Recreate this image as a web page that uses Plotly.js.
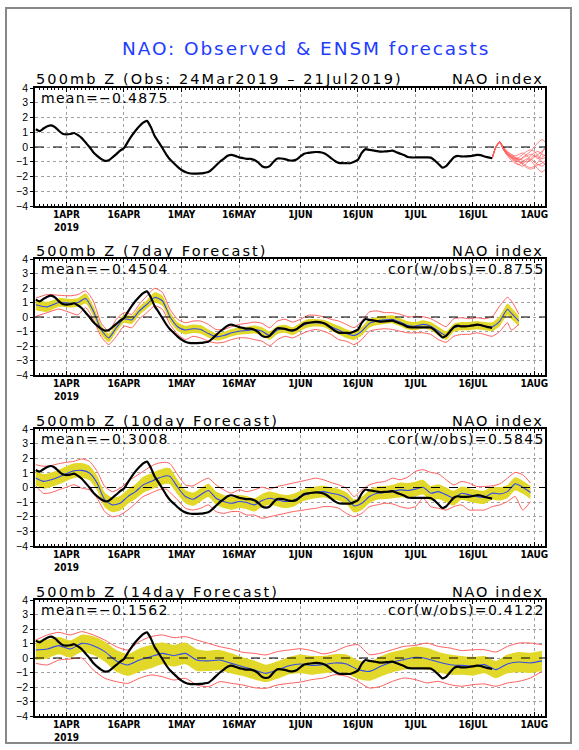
<!DOCTYPE html>
<html>
<head>
<meta charset="utf-8">
<script src="https://cdn.plot.ly/plotly-3.0.1.min.js"></script>
<style>html,body{margin:0;padding:0;background:#fff;}#chart{width:579px;height:750px;}</style>
</head>
<body>
<div id="chart"></div>
<script>
// ---------------- DATA ----------------
const obsStart = '2019-03-24';
const obsValues = [
  1.2, 1.08, 1.25, 1.4, 1.47, 1.35, 1.1, 0.9,
  0.85, 0.88, 0.95, 0.8, 0.6, 0.3, 0.0, -0.35, -0.6, -0.8, -0.94, -0.9, -0.7, -0.48, -0.25, -0.07, 0.35, 0.75, 1.1, 1.4, 1.65, 1.77, 1.35, 0.75, 0.35, -0.07, -0.5, -0.85, -1.1, -1.35,
  -1.56, -1.7, -1.78, -1.8, -1.8, -1.79, -1.75, -1.7, -1.5, -1.25, -1.0, -0.8, -0.6, -0.53, -0.6, -0.7, -0.75, -0.8, -0.8, -0.88, -1.05, -1.3, -1.38, -1.3, -1.0, -0.78, -0.78, -0.82, -0.9, -0.92, -0.85,
  -0.64, -0.45, -0.4, -0.36, -0.34, -0.35, -0.41, -0.55, -0.75, -0.95, -1.08, -1.1, -1.1, -1.1, -1.0, -0.87, -0.4, -0.14, -0.2, -0.23, -0.28, -0.32, -0.3, -0.28, -0.25, -0.35, -0.45, -0.55, -0.68, -0.71,
  -0.71, -0.71, -0.71, -0.71, -0.72, -0.9, -1.15, -1.4, -1.3, -1.0, -0.7, -0.6, -0.64, -0.64, -0.62, -0.58, -0.53, -0.55, -0.64, -0.7, -0.76
];

// Panel 1: ensemble member forecasts from 21Jul
const ensDates = ['07-21','07-22','07-23','07-24','07-25','07-26','07-27','07-28','07-29','07-30','07-31','08-01','08-02','08-03','08-04'];
const ensMembers = [
  [-0.76, 0.0, 0.35, -0.1, -0.4, -0.6, -0.8, -0.9, -0.7, -0.5, -0.3, 0.0, 0.3, 0.5, 0.3],
  [-0.76, 0.0, 0.3, -0.2, -0.5, -0.7, -0.9, -1.0, -1.1, -0.9, -0.6, -0.4, -0.3, -0.5, -0.6],
  [-0.76, 0.0, 0.35, 0.0, -0.3, -0.5, -0.6, -0.5, -0.4, -0.6, -0.8, -1.0, -1.2, -1.1, -0.9],
  [-0.76, 0.05, 0.38, -0.15, -0.5, -0.8, -1.0, -1.2, -1.3, -1.1, -0.8, -0.6, -0.7, -1.0, -1.2],
  [-0.76, 0.0, 0.3, -0.2, -0.6, -0.9, -1.1, -1.2, -1.0, -0.8, -0.9, -1.2, -1.5, -1.7, -1.5],
  [-0.76, 0.0, 0.32, -0.1, -0.35, -0.5, -0.7, -0.8, -0.9, -1.0, -0.9, -0.7, -0.5, -0.3, -0.1],
  [-0.76, 0.0, 0.35, -0.05, -0.45, -0.7, -0.8, -0.7, -0.5, -0.3, -0.2, -0.3, -0.6, -0.8, -0.7],
  [-0.76, 0.0, 0.3, -0.2, -0.55, -0.75, -0.9, -1.0, -1.1, -1.3, -1.4, -1.3, -1.0, -0.7, -0.5],
  [-0.76, 0.0, 0.33, -0.1, -0.4, -0.65, -0.8, -0.85, -0.75, -0.6, -0.5, -0.6, -0.8, -0.4, 0.1],
  [-0.76, 0.0, 0.36, -0.15, -0.5, -0.6, -0.7, -0.9, -1.2, -1.4, -1.5, -1.4, -1.2, -1.3, -1.1]
];

// Panel 2: 7-day forecast
const d7 = ['03-24','03-27','03-30','04-02','04-04','04-06','04-08','04-10','04-12','04-14','04-16','04-18','04-20','04-22','04-24','04-26','04-28','04-30',
  '05-02','05-04','05-06','05-08','05-10','05-12','05-14','05-16','05-18','05-20','05-22','05-24','05-26','05-28','05-30',
  '06-01','06-03','06-05','06-07','06-09','06-11','06-13','06-15','06-17','06-19','06-21','06-23','06-25','06-27','06-29',
  '07-01','07-03','07-05','07-07','07-09','07-11','07-13','07-15','07-17','07-19','07-21','07-23','07-25','07-26','07-28'];
const mean7 = [0.85, 0.7, 1.0, 0.95, 1.0, 1.28, 0.42, -0.86, -1.44, -0.74, -0.12, -0.2, 0.42, 0.88, 1.35, 1.12, 0.02, -0.67,
  -0.9, -0.81, -0.86, -1.14, -1.37, -1.28, -1.09, -0.98, -0.93, -0.86, -0.98, -1.28, -0.9, -0.81, -0.98,
  -0.67, -0.44, -0.4, -0.44, -0.67, -0.9, -1.14, -1.28, -0.98, -0.44, -0.28, -0.2, -0.16, -0.35, -0.58,
  -0.63, -0.51, -0.63, -0.98, -1.28, -0.74, -0.63, -0.63, -0.56, -0.63, -0.67, -0.28, 0.53, 0.26, -0.28];
const spread7 = [0.38, 0.35, 0.3, 0.3, 0.3, 0.35, 0.35, 0.35, 0.3, 0.3, 0.28, 0.28, 0.3, 0.3, 0.35, 0.35, 0.35, 0.3,
  0.3, 0.3, 0.3, 0.28, 0.25, 0.25, 0.25, 0.25, 0.25, 0.28, 0.28, 0.3, 0.28, 0.28, 0.28,
  0.28, 0.28, 0.25, 0.25, 0.28, 0.3, 0.3, 0.3, 0.3, 0.3, 0.28, 0.28, 0.28, 0.28, 0.28,
  0.28, 0.28, 0.28, 0.3, 0.3, 0.28, 0.28, 0.28, 0.28, 0.28, 0.3, 0.35, 0.4, 0.4, 0.35];
const hi7 = [1.3, 1.55, 1.5, 1.46, 1.55, 1.8, 1.1, -0.4, -0.98, -0.16, 0.3, 0.19, 0.88, 1.46, 1.98, 1.7, 0.53, -0.16,
  -0.4, -0.28, -0.28, -0.51, -0.86, -0.86, -0.67, -0.51, -0.44, -0.35, -0.44, -0.74, -0.28, -0.16, -0.35,
  -0.16, 0.12, 0.12, 0.02, -0.16, -0.28, -0.51, -0.74, -0.28, 0.35, 0.42, 0.3, 0.3, 0.19, 0.02,
  0.02, 0.02, -0.12, -0.4, -0.67, -0.12, -0.05, -0.12, -0.05, -0.12, 0.02, 0.77, 1.35, 1.12, 0.19];
const lo7 = [0.05, 0.3, 0.55, 0.3, 0.15, 0.65, -0.16, -1.33, -1.9, -1.33, -0.63, -0.74, -0.12, 0.3, 0.77, 0.53, -0.51, -1.2,
  -1.56, -1.33, -1.44, -1.67, -1.79, -1.74, -1.56, -1.44, -1.44, -1.56, -1.67, -1.98, -1.56, -1.33, -1.44,
  -1.2, -0.98, -0.86, -0.98, -1.2, -1.56, -1.67, -1.9, -1.56, -0.98, -0.86, -0.81, -0.86, -0.98, -1.09,
  -1.09, -1.09, -1.2, -1.56, -1.74, -1.33, -1.2, -1.2, -1.09, -1.2, -1.33, -1.0, -0.4, -0.9, -0.5];

// Panel 3: 10-day forecast
const d10 = ['03-24','03-26','03-28','03-30','04-01','04-03','04-05','04-07','04-09','04-11','04-13','04-15','04-17','04-19','04-21','04-23','04-25','04-27','04-28','04-30',
  '05-02','05-04','05-06','05-08','05-10','05-12','05-14','05-16','05-18','05-20','05-22','05-24','05-26','05-28','05-30',
  '06-01','06-03','06-05','06-07','06-09','06-11','06-13','06-15','06-17','06-19','06-21','06-23','06-25','06-27','06-29',
  '07-01','07-03','07-05','07-07','07-09','07-11','07-13','07-15','07-17','07-19','07-21','07-23','07-25','07-27','07-29','07-31'];
const mean10 = [0.65, 0.42, 0.53, 0.72, 0.95, 1.15, 1.17, 0.99, 0.3, -0.85, -1.19, -1.08, -0.62, -0.28, 0.18, 0.41, 0.64, 0.8, 0.76, 0.02,
  -0.62, -0.8, -0.5, -0.2, -0.73, -0.96, -1.08, -0.96, -1.03, -1.19, -0.89, -0.73, -0.85, -0.96, -0.89,
  -0.62, -0.44, -0.34, -0.28, -0.39, -0.5, -0.73, -1.26, -1.08, -0.62, -0.39, -0.34, -0.28, -0.16, -0.2,
  -0.11, 0.02, -0.39, -0.28, -0.5, -0.73, -0.39, -0.5, -0.62, -0.67, -0.39, -0.44, -0.28, 0.25, 0.02, -0.34];
const spread10 = [0.5, 0.5, 0.5, 0.5, 0.5, 0.5, 0.5, 0.5, 0.5, 0.5, 0.5, 0.5, 0.5, 0.5, 0.55, 0.55, 0.55, 0.55, 0.55, 0.5,
  0.45, 0.45, 0.45, 0.45, 0.45, 0.45, 0.45, 0.45, 0.45, 0.45, 0.45, 0.45, 0.45, 0.45, 0.45,
  0.4, 0.4, 0.4, 0.4, 0.4, 0.4, 0.4, 0.45, 0.45, 0.45, 0.45, 0.45, 0.45, 0.5, 0.5,
  0.5, 0.5, 0.5, 0.5, 0.5, 0.5, 0.45, 0.45, 0.45, 0.45, 0.45, 0.45, 0.45, 0.45, 0.45, 0.45];
const hi10 = [1.56, 1.45, 1.5, 1.63, 1.72, 1.79, 1.95, 1.79, 1.1, 0.07, -0.28, -0.05, 0.41, 0.76, 1.1, 1.45, 1.67, 1.72, 1.63, 0.87,
  0.18, 0.11, 0.41, 0.64, 0.18, -0.16, -0.39, -0.16, -0.28, -0.16, 0.02, -0.11, 0.07, 0.18, 0.3,
  0.41, 0.53, 0.64, 0.53, 0.34, 0.18, -0.05, -0.62, -0.16, 0.18, 0.34, 0.41, 0.64, 0.53, 0.71,
  1.1, 1.22, 1.03, 0.94, 0.53, 0.18, 0.41, 0.3, 0.07, 0.07, 0.11, 0.25, 0.64, 1.03, 0.87, 0.3];
const lo10 = [0.12, -0.4, -0.35, -0.16, 0.02, 0.19, -0.05, -0.16, -0.74, -1.65, -2.0, -1.88, -1.54, -1.08, -0.62, -0.39, -0.16, -0.11, -0.34, -0.85,
  -1.42, -1.54, -1.42, -1.19, -1.65, -1.77, -1.65, -1.65, -1.88, -1.88, -2.1, -2.0, -1.88, -1.77, -1.65,
  -1.58, -1.49, -1.42, -1.31, -1.31, -1.42, -1.77, -2.0, -1.77, -1.31, -1.19, -1.08, -1.12, -1.31, -1.42,
  -1.31, -0.73, -1.31, -1.42, -1.54, -1.31, -1.19, -1.54, -1.54, -1.54, -1.31, -1.19, -0.96, -0.62, -1.54, -0.96];

// Panel 4: 14-day forecast
const d14 = ['03-24','03-27','03-30','04-02','04-05','04-08','04-11','04-14','04-17','04-20','04-23','04-26','04-29',
  '05-02','05-05','05-08','05-11','05-14','05-17','05-20','05-23','05-26','05-29',
  '06-01','06-04','06-07','06-10','06-13','06-16','06-19','06-22','06-25','06-28',
  '07-01','07-04','07-07','07-10','07-13','07-16','07-19','07-22','07-25','07-28','07-31','08-03'];
const mean14 = [0.55, 0.62, 0.85, 0.62, 1.01, 0.85, 0.44, -0.2, -0.48, -0.14, 0.09, 0.32, 0.16,
  0.32, -0.14, -0.2, -0.14, -0.37, -0.6, -0.83, -1.06, -0.83, -0.53,
  -0.41, -0.51, -0.46, -0.34, -0.41, -0.8, -0.92, -0.57, -0.28, -0.11,
  0.05, -0.05, -0.28, -0.46, -0.51, -0.57, -0.46, -0.8, -0.41, -0.28, -0.34, -0.2];
const spread14 = [0.68, 0.65, 0.6, 0.6, 0.6, 0.65, 0.7, 0.75, 0.75, 0.8, 0.8, 0.75, 0.75,
  0.75, 0.75, 0.7, 0.7, 0.7, 0.65, 0.65, 0.6, 0.6, 0.6,
  0.65, 0.65, 0.6, 0.6, 0.65, 0.65, 0.65, 0.7, 0.7, 0.7,
  0.75, 0.75, 0.7, 0.7, 0.65, 0.65, 0.6, 0.6, 0.65, 0.7, 0.7, 0.7];
const hi14 = [1.24, 1.59, 1.77, 1.59, 1.82, 1.59, 1.24, 0.78, 0.55, 1.13, 1.47, 1.59, 1.4,
  1.47, 1.24, 1.01, 0.78, 0.62, 0.39, 0.32, 0.21, 0.44, 0.55,
  0.64, 0.51, 0.28, 0.46, 0.8, 0.92, 0.23, 0.34, 0.57, 0.8,
  0.87, 1.03, 0.8, 0.69, 0.51, 0.57, 0.57, 0.41, 0.8, 1.03, 1.03, 0.92];
const lo14 = [-0.37, -0.48, -0.14, -0.07, 0.0, -0.83, -1.4, -1.63, -1.75, -1.4, -1.17, -1.29, -1.52,
  -1.4, -1.86, -1.98, -1.63, -1.75, -1.86, -2.05, -2.09, -1.86, -1.75,
  -1.66, -1.49, -1.38, -1.15, -1.26, -1.61, -2.07, -1.95, -1.61, -1.38,
  -1.49, -1.72, -1.61, -1.84, -1.95, -1.84, -1.79, -1.95, -1.72, -1.61, -1.38, -0.92];

const tickDates = ['2019-04-01','2019-04-16','2019-05-01','2019-05-16','2019-06-01','2019-06-16','2019-07-01','2019-07-16','2019-08-01'];
const tickLabels = ['1APR<br>2019','16APR','1MAY','16MAY','1JUN','16JUN','1JUL','16JUL','1AUG'];
const panelTitles = ['500mb Z (Obs: 24Mar2019 \u2013 21Jul2019)','500mb Z (7day Forecast)','500mb Z (10day Forecast)','500mb Z (14day Forecast)'];
const meanLabels = ['mean=\u22120.4875','mean=\u22120.4504','mean=\u22120.3008','mean=\u22120.1562'];
const corLabels = [null,'cor(w/obs)=0.8755','cor(w/obs)=0.5845','cor(w/obs)=0.4122'];
const mainTitle = 'NAO: Observed & ENSM forecasts';
const rightLabel = 'NAO index';

// ---------------- BUILD ----------------
const YR = '2019-';
const toDate = a => a.map(s => YR + s);
const obsDates = obsValues.map((_, i) => {
  const d = new Date(obsStart + 'T00:00:00Z'); d.setUTCDate(d.getUTCDate() + i);
  return d.toISOString().slice(0, 10);
});

const W = 579, H = 750, L = 35, R = 34;
const plotW = W - L - R;
const panels = [[88, 206], [259, 375], [429, 546], [600, 716]];
const px2x = p => (p - L) / plotW;
const py2y = p => 1 - p / H;

const YELLOW = 'rgb(226,216,42)';
const RED = 'rgb(255,95,95)';
const BLUE = 'rgb(50,75,235)';

const traces = [];
const axSuffix = i => (i === 0 ? '' : String(i + 1));

function addForecast(i, dates, mean, spread, hi, lo) {
  const xa = 'x' + axSuffix(i), ya = 'y' + axSuffix(i);
  const x = toDate(dates);
  const up = mean.map((m, k) => m + spread[k]);
  const dn = mean.map((m, k) => m - spread[k]);
  const sh = {shape: 'spline', smoothing: 0.6};
  traces.push({x, y: dn, xaxis: xa, yaxis: ya, mode: 'lines', line: {width: 0, color: YELLOW, ...sh}, hoverinfo: 'skip', showlegend: false});
  traces.push({x, y: up, xaxis: xa, yaxis: ya, mode: 'lines', fill: 'tonexty', fillcolor: YELLOW, line: {width: 0, color: YELLOW, ...sh}, hoverinfo: 'skip', showlegend: false});
  traces.push({x, y: hi, xaxis: xa, yaxis: ya, mode: 'lines', line: {width: 1, color: RED, ...sh}, showlegend: false});
  traces.push({x, y: lo, xaxis: xa, yaxis: ya, mode: 'lines', line: {width: 1, color: RED, ...sh}, showlegend: false});
  traces.push({x, y: mean, xaxis: xa, yaxis: ya, mode: 'lines', line: {width: 1.1, color: BLUE, ...sh}, showlegend: false});
}
function addObs(i) {
  traces.push({x: obsDates, y: obsValues, xaxis: 'x' + axSuffix(i), yaxis: 'y' + axSuffix(i), mode: 'lines',
    line: {width: 2.2, color: 'black', shape: 'spline', smoothing: 0.5}, showlegend: false});
}

ensMembers.forEach(m => traces.push({x: toDate(ensDates), y: m, xaxis: 'x', yaxis: 'y', mode: 'lines',
  line: {width: 0.8, color: RED, shape: 'spline', smoothing: 0.6}, showlegend: false}));
addObs(0);
addForecast(1, d7, mean7, spread7, hi7, lo7); addObs(1);
addForecast(2, d10, mean10, spread10, hi10, lo10); addObs(2);
addForecast(3, d14, mean14, spread14, hi14, lo14); addObs(3);

const layout = {
  width: W, height: H,
  margin: {l: L, r: R, t: 0, b: 0},
  paper_bgcolor: 'white', plot_bgcolor: 'white',
  showlegend: false,
  font: {family: 'DejaVu Sans, sans-serif', color: 'black'},
  annotations: [], shapes: []
};
const spacing = s => '<span style="letter-spacing:' + s + 'px">';

panels.forEach((p, i) => {
  const s = axSuffix(i);
  layout['xaxis' + s] = {
    domain: [0, 1], anchor: 'y' + s, type: 'date',
    range: ['2019-03-23 19:00', '2019-08-03 19:00'],
    tickmode: 'array', tickvals: tickDates, ticktext: tickLabels,
    showgrid: true, gridcolor: '#a0a0a0', griddash: 'dot', gridwidth: 1,
    showline: true, linecolor: 'black', linewidth: 1.8, mirror: 'allticks',
    ticks: 'inside', ticklen: 4, tickcolor: 'black', tickwidth: 1,
    minor: {dtick: 86400000, ticks: 'inside', ticklen: 2, tickcolor: 'black', showgrid: false},
    tickfont: {family: 'Liberation Sans Narrow, DejaVu Sans Condensed, sans-serif', size: 10, weight: 'bold', color: 'black'},
    ticklabelstandoff: -2,
    zeroline: false, fixedrange: true
  };
  layout['yaxis' + s] = {
    domain: [py2y(p[1]), py2y(p[0])], anchor: 'x' + s,
    range: [-4, 4], tickmode: 'array', tickvals: [-4, -3, -2, -1, 0, 1, 2, 3, 4],
    showgrid: true, gridcolor: '#a0a0a0', griddash: 'dot', gridwidth: 1,
    showline: true, linecolor: 'black', linewidth: 1.8, mirror: true,
    ticks: 'outside', ticklen: 3, tickcolor: 'black',
    tickfont: {family: 'Liberation Sans, sans-serif', size: 10.5, color: 'black'},
    zeroline: false, fixedrange: true
  };
  layout.shapes.push({type: 'line', xref: 'x' + s + ' domain', yref: 'y' + s, x0: 0, x1: 1, y0: 0, y1: 0,
    line: {color: 'black', width: 1.1, dash: 'dash'}, layer: 'above'});
  const yTitle = py2y(p[0] - 8.5);
  layout.annotations.push({xref: 'paper', yref: 'paper', x: 0, y: yTitle, xanchor: 'left', yanchor: 'middle', showarrow: false,
    text: spacing(2.1) + panelTitles[i] + '</span>', font: {size: 14.5, family: 'DejaVu Sans, sans-serif', color: 'black'}, borderpad: 0});
  layout.annotations.push({xref: 'paper', yref: 'paper', x: 1, y: yTitle, xanchor: 'right', yanchor: 'middle', showarrow: false,
    text: spacing(1.7) + rightLabel + '</span>', font: {size: 14.5, family: 'DejaVu Sans, sans-serif', color: 'black'}, borderpad: 0});
  const yMean = py2y(p[0] + 10);
  layout.annotations.push({xref: 'paper', yref: 'paper', x: px2x(40), y: yMean, xanchor: 'left', yanchor: 'middle', showarrow: false,
    text: spacing(1.3) + meanLabels[i] + '</span>', font: {size: 14, family: 'DejaVu Sans, sans-serif', color: 'black'}, borderpad: 0});
  if (corLabels[i]) {
    layout.annotations.push({xref: 'paper', yref: 'paper', x: px2x(546), y: yMean, xanchor: 'right', yanchor: 'middle', showarrow: false,
      text: spacing(1.3) + corLabels[i] + '</span>', font: {size: 14, family: 'DejaVu Sans, sans-serif', color: 'black'}, borderpad: 0});
  }
});

layout.annotations.push({xref: 'paper', yref: 'paper', x: px2x(306), y: py2y(48), xanchor: 'center', yanchor: 'middle', showarrow: false,
  text: spacing(1.9) + mainTitle + '</span>', font: {size: 18.5, family: 'DejaVu Sans, sans-serif', color: 'rgb(30,60,255)'}, borderpad: 0});

layout.shapes.push({type: 'rect', xref: 'paper', yref: 'paper', x0: px2x(6), x1: px2x(571), y0: py2y(743), y1: py2y(8),
  line: {color: '#888', width: 2}, fillcolor: 'rgba(0,0,0,0)', layer: 'above'});

Plotly.newPlot('chart', traces, layout, {staticPlot: true, displayModeBar: false});
</script>
</body>
</html>
